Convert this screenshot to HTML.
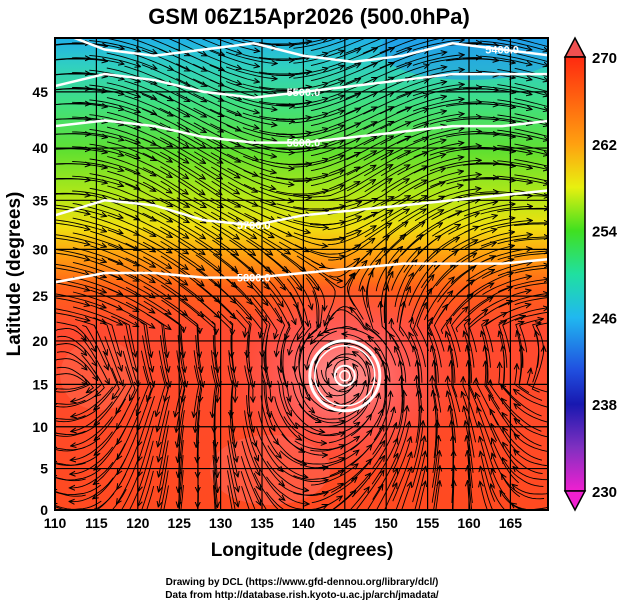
<!DOCTYPE html>
<html><head><meta charset="utf-8"><style>
body{margin:0;background:#fff;width:619px;height:605px;overflow:hidden}
svg{display:block;font-family:"Liberation Sans",sans-serif}
</style></head><body>
<svg id="s" width="619" height="605" viewBox="0 0 619 605">
<defs>
<linearGradient id="tg" x1="0" y1="0" x2="0" y2="1">
<stop offset="0" stop-color="#20b0e8"/>
<stop offset="0.06" stop-color="#30d0c0"/>
<stop offset="0.14" stop-color="#40e080"/>
<stop offset="0.24" stop-color="#60e030"/>
<stop offset="0.33" stop-color="#b0e818"/>
<stop offset="0.40" stop-color="#f0e010"/>
<stop offset="0.46" stop-color="#ffa010"/>
<stop offset="0.53" stop-color="#ff6018"/>
<stop offset="0.62" stop-color="#ff4a30"/>
<stop offset="1" stop-color="#ff4a20"/>
</linearGradient>
<radialGradient id="ty"><stop offset="0" stop-color="#ff9a9a"/><stop offset="0.5" stop-color="#ff6060" stop-opacity="0.8"/><stop offset="1" stop-color="#ff5050" stop-opacity="0"/></radialGradient>
<linearGradient id="cb" x1="0" y1="0" x2="0" y2="1">
<stop offset="0" stop-color="#ff2a10"/><stop offset="0.2" stop-color="#ffa010"/><stop offset="0.3" stop-color="#e8f010"/>
<stop offset="0.4" stop-color="#40e020"/><stop offset="0.5" stop-color="#20e0a0"/><stop offset="0.6" stop-color="#20b8f0"/>
<stop offset="0.72" stop-color="#2050e0"/><stop offset="0.8" stop-color="#1818b0"/><stop offset="0.9" stop-color="#8030c0"/><stop offset="1" stop-color="#f020d0"/>
</linearGradient>
<clipPath id="pc"><rect x="55" y="38" width="493" height="472"/></clipPath>
<marker id="ah" viewBox="0 0 10 10" refX="8" refY="5" markerWidth="7" markerHeight="7" orient="auto"><path d="M0,1 L9,5 L0,9" fill="none" stroke="#000" stroke-width="1.6"/></marker>
</defs>
<text x="309" y="24" text-anchor="middle" font-size="22" font-weight="bold">GSM 06Z15Apr2026 (500.0hPa)</text>
<g clip-path="url(#pc)">
<rect x="55" y="38" width="493" height="472" fill="url(#tg)"/>
<ellipse cx="470" cy="50" rx="90" ry="30" fill="#2090f0" opacity="0.5"/>
<ellipse cx="343" cy="377" rx="120" ry="100" fill="url(#ty)"/>
<ellipse cx="100" cy="375" rx="40" ry="35" fill="#ff6a50" opacity="0.5"/>
<ellipse cx="270" cy="470" rx="60" ry="35" fill="#ff6a60" opacity="0.5"/>
<g id="grid"></g><g id="stream"></g><g id="cont"></g>
</g>
<rect x="55" y="38" width="493" height="472" fill="none" stroke="#000" stroke-width="2"/>
<g id="axes"></g>
<text x="302" y="556" text-anchor="middle" font-size="19" font-weight="bold">Longitude (degrees)</text>
<text transform="translate(20,274) rotate(-90)" text-anchor="middle" font-size="19" font-weight="bold">Latitude  (degrees)</text>
<g>
<polygon points="565,57 575,38 585,57" fill="#f05050" stroke="#000" stroke-width="1.5"/>
<rect x="565" y="57" width="20" height="434" fill="url(#cb)" stroke="#000" stroke-width="1.5"/>
<polygon points="565,491 575,510 585,491" fill="#f020d0" stroke="#000" stroke-width="1.5"/>
<g id="cbl"></g>
</g>
<text x="302" y="585" text-anchor="middle" font-size="10" font-weight="bold">Drawing by DCL (https://www.gfd-dennou.org/library/dcl/)</text>
<text x="302" y="598" text-anchor="middle" font-size="10" font-weight="bold">Data from http://database.rish.kyoto-u.ac.jp/arch/jmadata/</text>
</svg>
<script>
const lonTicks=[110,115,120,125,130,135,140,145,150,155,160,165];
const latTicks=[0,5,10,15,20,25,30,35,40,45];
const cbLevels=[270,262,254,246,238,230];
const contourLevels=["5400.0","5500.0","5600.0","5700.0","5800.0"];
const contourLats=[[50,48.5,48,48.5,49,48,47.5,48,49,48.5,48],[45.5,46.5,46,45,44.5,45,45.5,46,46.5,46.5,46.5],[42,42.5,42,41,40.5,40.5,41,41.5,42,42,42.5],[33.5,35,34.5,33,32.5,33.5,34,34.5,35,35.5,36],[26.5,27.5,27.5,27,27,27.5,28,28.5,28.5,28.5,29]];
const contourLons=[110,116,122,128,134,140,146,152,158,164,170];
const typhoon={lon:145,lat:16};
const NS="http://www.w3.org/2000/svg";
const X=l=>55+(l-110)*8.28;
const merc=p=>Math.log(Math.tan(Math.PI/4+p*Math.PI/360))*180/Math.PI;
const Y=p=>510-merc(p)*8.28;
function el(t,a,p){const e=document.createElementNS(NS,t);for(const k in a)e.setAttribute(k,a[k]);p.appendChild(e);return e;}
const grid=document.getElementById('grid'),axes=document.getElementById('axes');
lonTicks.forEach(l=>{const g=el('line',{x1:X(l),x2:X(l),y1:38,y2:510,stroke:'#000','stroke-width':1.2},grid);

const t=el('text',{x:X(l),y:528,'text-anchor':'middle','font-size':14,'font-weight':'bold'},axes);t.textContent=l;
});
latTicks.forEach(p=>{const g=el('line',{x1:55,x2:548,y1:Y(p),y2:Y(p),stroke:'#000','stroke-width':1.2},grid);

const t=el('text',{x:48,y:Y(p)+5,'text-anchor':'end','font-size':14,'font-weight':'bold'},axes);t.textContent=p;
});
const cbl=document.getElementById('cbl');
cbLevels.forEach((v,i)=>{const y=57+i*86.8;const t=el('text',{x:592,y:y+6,'font-size':15,'font-weight':'bold'},cbl);t.textContent=v;
});
const cont=document.getElementById('cont');
contourLats.forEach((arr,i)=>{let d='';arr.forEach((p,j)=>{d+=(j?'L':'M')+X(contourLons[j])+','+Y(p);});
const c=el('path',{d:d,fill:'none',stroke:'#fff','stroke-width':2.5},cont);

const li=[9,5,5,4,4][i];const t=el('text',{x:X(contourLons[li]),y:Y(arr[li])+4,fill:'#fff','font-size':11,'font-weight':'bold','text-anchor':'middle'},cont);t.textContent=contourLevels[i];
});
const tx=X(typhoon.lon),tyy=Y(typhoon.lat);
[[35,3],[30,1.5],[10,2],[5,1.5]].forEach(r=>{const c=el('circle',{cx:tx,cy:tyy,r:r[0],fill:'none',stroke:'#fff','stroke-width':r[1]},cont);
});
function vel(x,y){const lat=(510-y)/8.28;let u=0,v=0;
if(lat>22){u=1;v=0.25*Math.sin((x-55)/70)+(lat>38?0.15*Math.cos((x-200)/50):0);}
else{u=-0.3+(lat>15?0.4:0);v=0.3*Math.sin((x-100)/60);}
const dx=x-tx,dy=y-tyy,r=Math.hypot(dx,dy)+1;const s=Math.exp(-r/110)*2.2;
u+=dy/r*s;v+=-dx/r*s;u+=-dx/r*s*0.15;v+=-dy/r*s*0.15;
const m=Math.hypot(u,v)+1e-6;return [u/m,v/m];}
const st=document.getElementById('stream');
for(let sx=62;sx<548;sx+=17)for(let sy=44;sy<510;sy+=15){
let pts=[[sx,sy]];let x=sx,y=sy;for(let k=0;k<7;k++){const [u,v]=vel(x,y);x+=u*4;y+=v*4;pts.push([x,y]);}
let back=[];x=sx;y=sy;for(let k=0;k<6;k++){const [u,v]=vel(x,y);x-=u*4;y-=v*4;back.unshift([x,y]);}
const all=back.concat(pts);const d='M'+all.map(p=>p[0].toFixed(1)+','+p[1].toFixed(1)).join('L');
const p=el('path',{d:d,fill:'none',stroke:'#000','stroke-width':0.9,'marker-end':'url(#ah)'},st);

}
</script>
</body></html>
